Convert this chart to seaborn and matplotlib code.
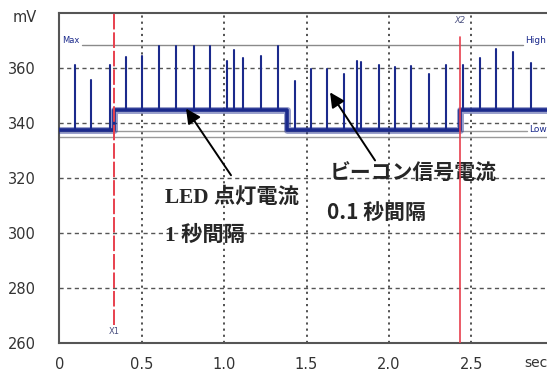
import matplotlib
matplotlib.use("Agg")
import matplotlib.pyplot as plt
import seaborn as sns
import pandas as pd
import numpy as np

# Supply-current baseline: level changes when the LED switches on/off
step_times = [0.0, 0.332, 1.382, 2.431, 2.96]
step_levels = [337.6, 344.8, 337.6, 344.8]

# Beacon-signal current pulses (time in s, peak in mV)
spike_times = [0.093, 0.194, 0.305, 0.404, 0.500, 0.605, 0.706, 0.815, 0.916, 1.015,
               1.060, 1.116, 1.223, 1.327, 1.430, 1.525, 1.626, 1.730, 1.808, 1.832,
               1.937, 2.034, 2.135, 2.242, 2.347, 2.447, 2.550, 2.651, 2.756, 2.861]
spike_peaks = [361.2, 355.8, 361.2, 364.0, 364.4, 368.0, 368.0, 368.0, 368.0, 362.8,
               366.8, 363.6, 364.4, 368.0, 355.3, 359.8, 359.8, 358.0, 362.8, 362.2,
               361.0, 360.4, 360.7, 358.0, 361.3, 361.0, 363.6, 367.0, 365.8, 362.0]

# Cursor and threshold markers
cursor_x1 = 0.332
cursor_x2 = 2.431
max_level = 368.3
low_levels = [337.2, 335.0]

x_ticks = [0, 0.5, 1.0, 1.5, 2.0, 2.5]
x_tick_labels = ["0", "0.5", "1.0", "1.5", "2.0", "2.5"]
y_ticks = [260, 280, 300, 320, 340, 360]

sns.set_theme(style="white")
plt.rcParams["font.family"] = ["DejaVu Sans"]

W, H = 547, 372
fig = plt.figure(figsize=(W / 100, H / 100), dpi=100, facecolor="white")
ax = fig.add_axes([59.3 / W, 1 - 342.7 / H, (553.7 - 59.3) / W, (342.7 - 13.3) / H])
ax.set_xlim(0, 3.0)
ax.set_ylim(260, 380)
ax.set_facecolor("white")

navy = "#1b2a8c"

# grid
for y in [280, 300, 320, 340, 360]:
    ax.axhline(y, color="#555555", lw=1.0, ls=(0, (3, 2.5)), zorder=1)
for x in [0.5, 1.0, 1.5, 2.0, 2.5]:
    ax.axvline(x, color="#444444", lw=1.3, ls=(0, (1.2, 2.2)), zorder=1)

# threshold lines
ax.plot([0.14, 2.815], [max_level, max_level], color="#8a8a8a", lw=1.0, zorder=2)
ax.plot([0.0, 2.84], [low_levels[0], low_levels[0]], color="#9a9a9a", lw=1.0, zorder=2)
ax.plot([0.0, 3.0], [low_levels[1], low_levels[1]], color="#9a9a9a", lw=1.0, zorder=2)
ax.text(0.018, max_level + 0.2, "Max", fontsize=6, color=navy, va="bottom", ha="left")
ax.text(2.826, max_level + 0.2, "High", fontsize=6.5, color=navy, va="bottom", ha="left")
ax.text(2.85, low_levels[0] + 0.3, "Low", fontsize=6.5, color=navy, va="center", ha="left")

# baseline (noisy band drawn as a soft outer trace with a solid core)
base_df = pd.DataFrame({"t": step_times, "v": step_levels + [step_levels[-1]]})
sns.lineplot(data=base_df, x="t", y="v", drawstyle="steps-post", color=navy,
             lw=5.0, alpha=0.45, ax=ax, zorder=4)
sns.lineplot(data=base_df, x="t", y="v", drawstyle="steps-post", color=navy,
             lw=2.6, ax=ax, zorder=4)


def level_at(t):
    idx = np.searchsorted(step_times, t, side="right") - 1
    return step_levels[min(idx, len(step_levels) - 1)]


rows = []
for i, (t, p) in enumerate(zip(spike_times, spike_peaks)):
    rows.append({"t": t, "v": level_at(t), "pulse": i})
    rows.append({"t": t, "v": p, "pulse": i})
spike_df = pd.DataFrame(rows)
sns.lineplot(data=spike_df, x="t", y="v", units="pulse", estimator=None, sort=False,
             color=navy, lw=1.5, ax=ax, zorder=5)

# cursors
ax.plot([cursor_x1, cursor_x1], [266.5, 380], color="#e8404e", lw=1.4,
        ls=(0, (8, 1.5)), zorder=6)
ax.plot([cursor_x2, cursor_x2], [260, 371.3], color="#e8404e", lw=1.2, zorder=6)
ax.text(cursor_x1, 263.9, "X1", fontsize=6, color="#4a5080", ha="center", va="center")
ax.text(cursor_x2, 377.3, "X2", fontsize=6, color="#4a5080", ha="center", va="center",
        style="italic")

# annotations
jp_serif = ["Liberation Serif", "Noto Sans CJK JP"]
jp_sans = ["Noto Sans CJK JP"]
arrow = dict(arrowstyle="-|>", color="black", lw=1.4, mutation_scale=22,
             shrinkA=0, shrinkB=0)
ax.annotate("", xy=(0.769, 345.3), xytext=(1.042, 321.0), arrowprops=arrow, zorder=7)
ax.annotate("", xy=(1.643, 351.2), xytext=(1.916, 326.4), arrowprops=arrow, zorder=7)
ax.text(0.643, 313.0, "LED 点灯電流", family=jp_serif, weight="bold", fontsize=15.3,
        ha="left", va="center")
ax.text(0.643, 298.8, "1 秒間隔", family=jp_serif, weight="bold", fontsize=15.3,
        ha="left", va="center")
ax.text(1.643, 321.7, "ビーコン信号電流", family=jp_sans, weight="bold", fontsize=15,
        ha="left", va="center")
ax.text(1.624, 307.5, "0.1 秒間隔", family=jp_sans, weight="bold", fontsize=15,
        ha="left", va="center")

# axes styling
ax.set_xticks(x_ticks)
ax.set_xticklabels(x_tick_labels)
ax.set_yticks(y_ticks)
ax.tick_params(axis="both", length=0, labelsize=10.5, colors="#333333")
ax.tick_params(axis="x", pad=10.5)
ax.tick_params(axis="y", pad=17)
ax.set_xlabel("")
ax.set_ylabel("")
for side in ["left", "bottom", "top"]:
    ax.spines[side].set_color("#555555")
    ax.spines[side].set_linewidth(1.5)
ax.spines["right"].set_visible(False)

fig.text(37 / W, 1 - 18 / H, "mV", fontsize=10.5, color="#333333", ha="right", va="center")
ax.text(2.82, 260 - 20.5 / 2.75, "sec", fontsize=10, color="#333333", ha="left",
        va="center", clip_on=False)

fig.savefig("out.png", dpi=100, facecolor="white")
